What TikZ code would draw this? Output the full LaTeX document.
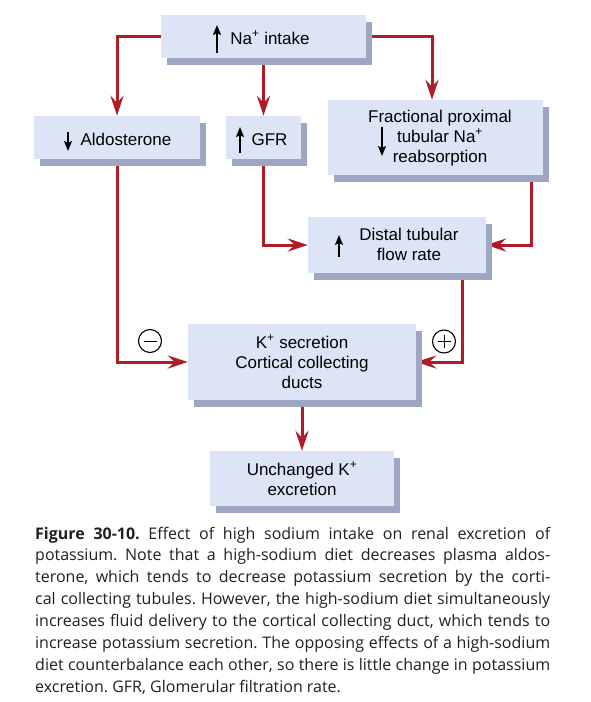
\documentclass[tikz,border=0pt]{standalone}
\usepackage{fontspec}
\setmainfont{Liberation Sans}
\newfontfamily\capfont{Open Sans}
\usetikzlibrary{arrows.meta,shadows,backgrounds}
\definecolor{boxfill}{HTML}{DCE4F5}
\definecolor{shadowc}{HTML}{9DA6C2}
\definecolor{linered}{HTML}{B01C26}
\definecolor{captext}{HTML}{231F20}
\frenchspacing
\tikzset{
  box/.style={draw=none, fill=boxfill, inner sep=0pt,
    drop shadow={shadow xshift=6pt, shadow yshift=-7pt, fill=shadowc, opacity=1}},
  lab/.style={font=\fontsize{17}{20}\selectfont, align=center, inner sep=0pt, anchor=base},
  conn/.style={draw=linered, line width=3pt, line join=miter,
    -{Stealth[length=20pt,width=13pt,inset=7pt,fill=linered]}},
  smallarr/.style={draw=black, line width=1.6pt, -{Stealth[length=10pt,width=8pt,inset=2pt]}},
  sign/.style={circle, draw=black, line width=1.1pt, minimum size=23pt, inner sep=0pt},
  capline/.style={anchor=base west, inner sep=0pt, text=captext,
    font=\capfont\fontsize{16}{20}\selectfont},
}
\newcommand\jline[1]{\makebox[515pt][s]{#1}}
\begin{document}
\begin{tikzpicture}[x=1pt,y=-1pt]
\useasboundingbox (0,0) rectangle (590,702);
% boxes
\node[box, minimum width=205pt, minimum height=43pt] (na) at (263.5,36.5) {};
\node[box, minimum width=166pt, minimum height=43pt] (ald) at (117,137.5) {};
\node[box, minimum width=75pt, minimum height=43pt] (gfr) at (263.5,137.5) {};
\node[box, minimum width=215pt, minimum height=75pt] (frac) at (435.5,137.5) {};
\node[box, minimum width=178pt, minimum height=56pt] (dist) at (397,245) {};
\node[box, minimum width=228pt, minimum height=76pt] (ksec) at (302,362) {};
\node[box, minimum width=184pt, minimum height=55pt] (unch) at (302,478.5) {};
% labels (anchor = baseline of last line)
\node[lab] (tna) at (270,44) {Na\textsuperscript{+} intake};
\node[lab] (tald) at (126,145.7) {Aldosterone};
\node[lab] (tgfr) at (269.5,145.7) {GFR};
\node[lab] (tfrac) at (440,162) {Fractional proximal\\tubular Na\textsuperscript{+}\\reabsorption};
\node[lab] (tdist) at (409,260) {Distal tubular\\flow rate};
\node[lab] (tksec) at (302,388) {K\textsuperscript{+} secretion\\Cortical collecting\\ducts};
\node[lab] (tunch) at (302,495) {Unchanged K\textsuperscript{+}\\excretion};
% small arrows
\draw[smallarr] (217,53) -- (217,25);
\draw[smallarr] (68,132) -- (68,151);
\draw[smallarr] (240,153) -- (240,127);
\draw[smallarr] (382,127) -- (382,156);
\draw[smallarr] (339,257) -- (339,235);
% connectors
\begin{pgfonlayer}{background}
\draw[conn] (na.west) -| (ald.north);
\draw[conn] (na.south) -- (gfr.north);
\draw[conn] (na.east) -| ([xshift=-3.5pt]frac.north);
\draw[conn] (ald.south) |- (ksec.west);
\draw[conn] (gfr.south) |- (dist.west);
\draw[conn] ([xshift=-11.5pt]frac.south east) |- (dist.east);
\draw[conn] ([xshift=-24pt]dist.south east) |- (ksec.east);
\draw[conn] (ksec.south) -- (unch.north);
\end{pgfonlayer}
% signs
\node[sign] (minus) at (150,341) {};
\draw[line width=1pt] ([xshift=-6.5pt]minus.center) -- ([xshift=6.5pt]minus.center);
\node[sign] (plus) at (444,341.5) {};
\draw[line width=1pt] ([xshift=-6.5pt]plus.center) -- ([xshift=6.5pt]plus.center);
\draw[line width=1pt] ([yshift=-6.5pt]plus.center) -- ([yshift=6.5pt]plus.center);
% caption
\node[capline] (c1) at (35,539) {\jline{\textbf{Figure 30-10.} Effect of high sodium intake on renal excretion of}};
\node[capline] (c2) at (35,560.9) {\jline{potassium. Note that a high-sodium diet decreases plasma aldos-}};
\node[capline] (c3) at (35,582.8) {\jline{terone, which tends to decrease potassium secretion by the corti-}};
\node[capline] (c4) at (35,604.7) {\jline{cal collecting tubules. However, the high-sodium diet simultaneously}};
\node[capline] (c5) at (35,626.6) {\jline{increases fluid delivery to the cortical collecting duct, which tends to}};
\node[capline] (c6) at (35,648.5) {\jline{increase potassium secretion. The opposing effects of a high-sodium}};
\node[capline] (c7) at (35,670.4) {\jline{diet counterbalance each other, so there is little change in potassium}};
\node[capline] (c8) at (35,692.3) {excretion. GFR, Glomerular filtration rate.};
\end{tikzpicture}
\end{document}
